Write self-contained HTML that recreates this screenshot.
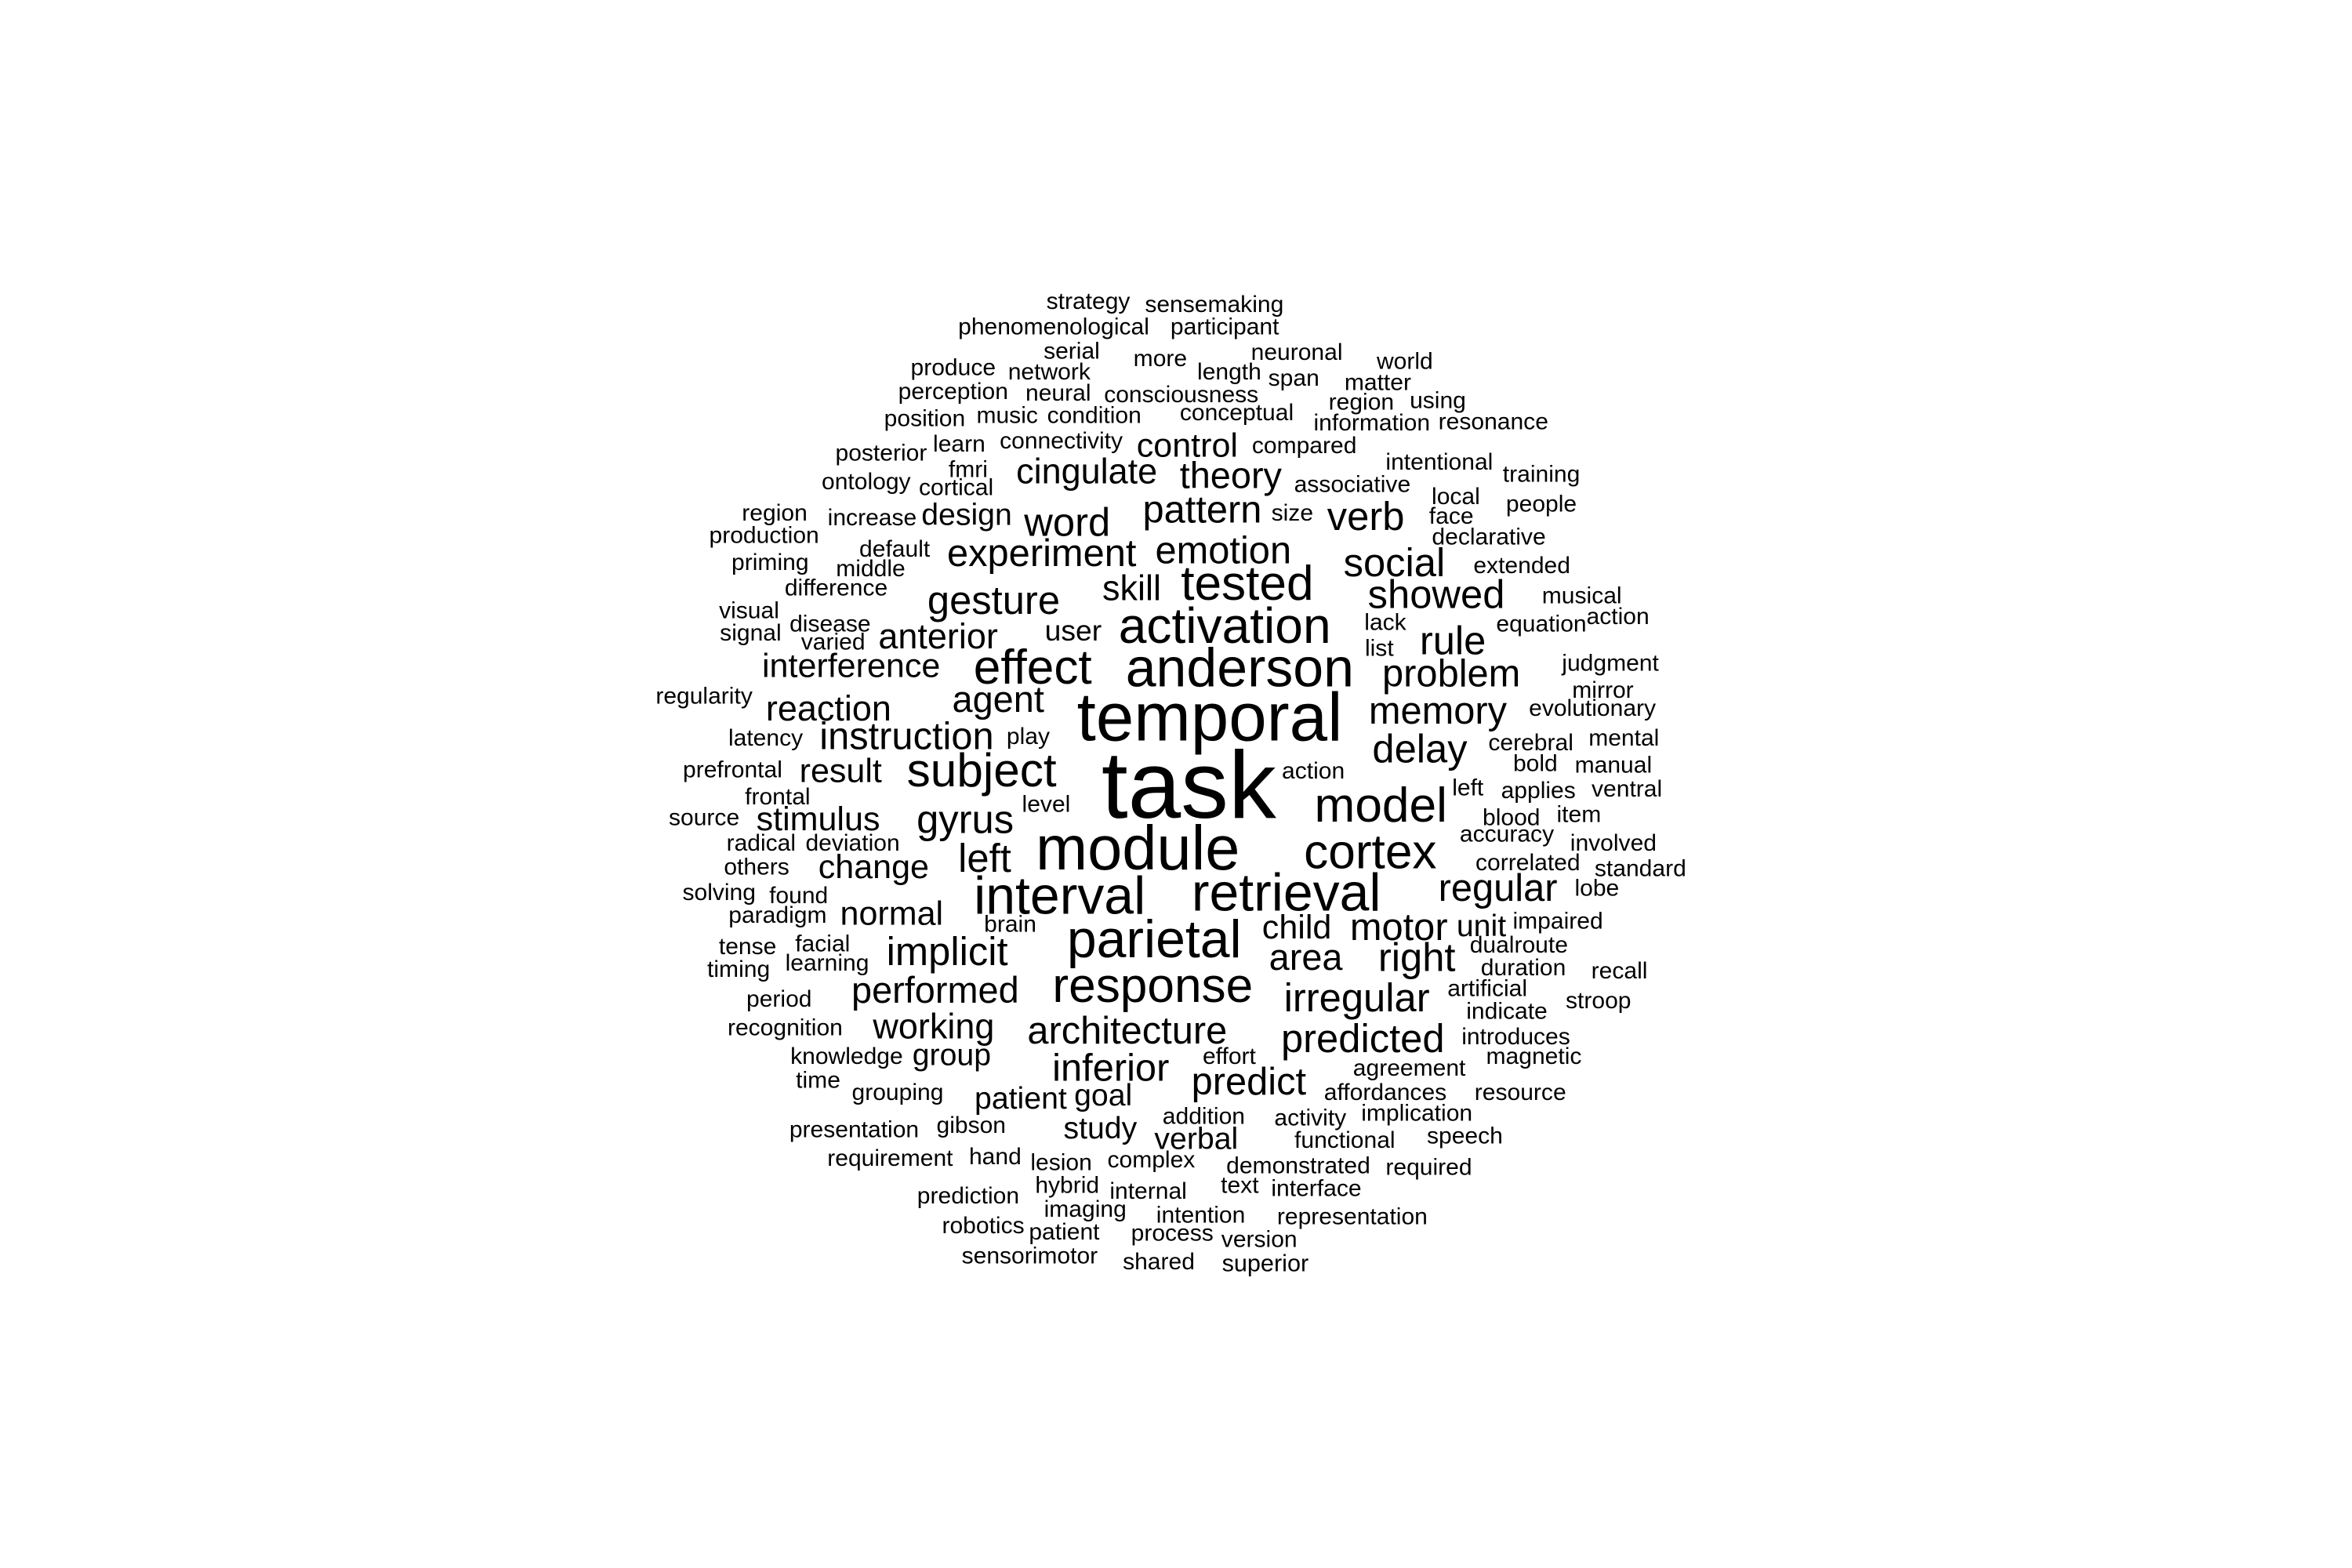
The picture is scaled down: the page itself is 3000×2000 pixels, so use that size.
<!DOCTYPE html>
<html><head><meta charset="utf-8">
<style>
html,body{margin:0;padding:0;background:#fff;}
svg{display:block;}
text{font-family:"Liberation Sans",Arial,sans-serif;fill:#000;}
</style></head>
<body>
<svg id="cloud" width="3000" height="2000" viewBox="0 0 1567 1045" xmlns="http://www.w3.org/2000/svg"></svg>
<script>
const words = ["strategy","sensemaking","phenomenological","participant","serial","more","neuronal","world","produce","network","length","span","matter","perception","neural","consciousness","region","using","position","music","condition","conceptual","information","resonance","learn","connectivity","control","compared","posterior","intentional","fmri","cingulate","theory","associative","training","ontology","cortical","local","people","region","increase","design","word","pattern","size","verb","face","production","default","declarative","experiment","emotion","priming","middle","social","extended","difference","skill","tested","showed","musical","visual","gesture","activation","lack","equation","action","disease","signal","varied","anterior","user","rule","list","interference","effect","anderson","problem","judgment","regularity","mirror","agent","temporal","memory","evolutionary","reaction","latency","instruction","play","delay","cerebral","mental","prefrontal","result","subject","task","action","bold","manual","left","applies","ventral","frontal","level","model","source","stimulus","gyrus","blood","item","radical","deviation","accuracy","involved","module","cortex","others","change","left","correlated","standard","solving","found","interval","retrieval","regular","lobe","paradigm","normal","brain","child","motor","unit","impaired","tense","facial","parietal","dualroute","timing","learning","implicit","area","right","duration","recall","period","performed","response","irregular","artificial","stroop","indicate","recognition","working","architecture","predicted","introduces","knowledge","group","effort","magnetic","inferior","time","agreement","predict","grouping","patient","goal","affordances","resource","presentation","gibson","study","addition","activity","implication","verbal","functional","speech","requirement","hand","lesion","complex","demonstrated","required","text","interface","prediction","hybrid","internal","imaging","intention","representation","robotics","patient","process","version","sensorimotor","shared","superior"];
const sizes = [14,14,14,14,14,14,14,14,14,14,14,14,14,14,14,14,14,14,14,14,14,14,14,14,14,14,20,14,14,14,14,21,22,14,14,14,14,14,14,14,14,18,24,23,14,24,14,14,14,14,23,23,14,14,24,14,14,21,30,24,14,14,24,31,14,14,14,14,14,14,21,17,24,14,20,30,34,23,14,14,14,22,43,23,14,21,14,23,14,24,14,14,14,20,29,61,14,14,14,14,14,14,14,14,30,14,20,24,14,14,14,14,14,14,39,30,14,20,24,14,14,14,14,33,33,23,14,14,20,14,20,23,18,14,14,14,33,14,14,14,24,22,24,14,14,14,22,30,24,14,14,14,14,21,23,24,14,14,18,14,14,23,14,14,23,14,18,18,14,14,14,14,18,14,14,14,18,14,14,14,14,14,14,14,14,14,14,14,14,14,14,14,14,14,14,14,14,14,14];
const cx = [725,809,702,816,714,773,864,936,635,699,819,862,918,635,705,787,907,958,616,671,729,824,914,995,639,707,791,869,587,959,645,724,820,901,1027,577,637,970,1027,516,581,644,711,801,861,910,967,509,596,992,694,815,513,580,929,1014,557,754,831,957,1054,499,662,816,923,1027,1078,553,500,555,625,715,968,919,567,688,826,967,1073,469,1068,665,806,958,1061,552,510,604,685,946,1020,1082,488,560,654,792,875,1023,1075,978,1025,1084,518,697,920,469,545,643,1007,1052,507,568,1004,1075,758,913,504,582,656,1018,1093,479,532,706,857,998,1064,518,594,673,864,932,987,1038,498,548,769,1012,492,551,631,870,944,1015,1079,519,623,768,904,991,1065,1004,523,622,751,908,1010,564,634,819,1022,740,545,939,832,598,680,735,923,1013,569,647,733,802,873,944,797,896,976,593,663,707,767,865,952,826,877,645,711,765,723,800,901,655,709,781,839,686,772,843];
const cy = [201,203,218,218,234,239,235,241,245,248,248,252,255,261,262,263,268,267,279,277,277,275,282,281,296,294,297,297,302,308,313,314,317,323,316,321,325,331,336,342,345,343,348,340,342,344,344,357,366,358,369,367,375,379,375,377,392,392,389,396,397,407,400,417,415,416,411,416,422,428,424,420,427,432,444,445,445,449,442,464,460,466,478,474,472,472,492,491,491,499,495,492,513,514,513,523,514,509,510,525,527,526,531,536,537,545,546,546,545,543,562,562,556,562,565,568,578,578,572,575,579,595,597,597,595,592,592,610,609,616,618,618,617,614,631,629,626,630,646,642,634,638,638,645,647,666,660,657,665,659,667,674,685,684,687,692,691,704,703,704,704,712,720,712,721,728,732,730,728,728,753,750,752,744,745,742,759,760,757,772,771,775,773,777,778,790,792,797,790,794,806,810,811,817,821,822,826,837,841,842];

const svg = document.getElementById('cloud');
const NS = 'http://www.w3.org/2000/svg';
for (let i = 0; i < words.length; i++) {
  const t = document.createElementNS(NS, 'text');
  const fs = sizes[i] + (sizes[i] <= 14 ? 1.7 : 2.5);
  t.setAttribute('x', cx[i]);
  t.setAttribute('y', cy[i]);
  t.setAttribute('font-size', fs);
  t.setAttribute('text-anchor', 'middle');
  t.setAttribute('dominant-baseline', 'central');
  t.textContent = words[i];
  
  
  svg.appendChild(t);
}
</script>
</body></html>
